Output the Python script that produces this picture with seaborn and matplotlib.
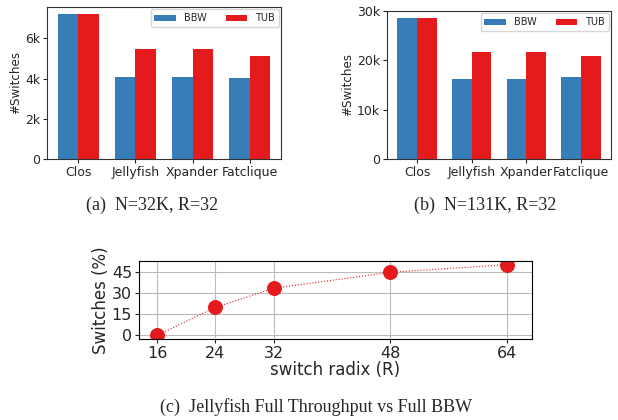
import matplotlib
matplotlib.use('Agg')
import matplotlib.pyplot as plt
import pandas as pd
import seaborn as sns

# ── Datos ─────────────────────────────────────────────────────────────────────
topologies = ['Clos', 'Jellyfish', 'Xpander', 'Fatclique']
series = ['BBW', 'TUB']
bbw_32k = [7200, 4080, 4080, 4030]
tub_32k = [7200, 5480, 5480, 5130]
bbw_131k = [28500, 16250, 16250, 16650]
tub_131k = [28500, 21700, 21700, 20900]

radix = [16, 24, 32, 48, 64]
switches_pct = [0, 19.8, 33.3, 44.6, 50]

colors = ['#377eb8', '#e41a1c']

sns.set_style('ticks')
plt.rcParams['font.family'] = ['DejaVu Sans']


def long_df(bbw, tub):
    return pd.DataFrame({
        'topo': topologies * 2,
        'kind': [series[0]] * 4 + [series[1]] * 4,
        'val': bbw + tub,
    })


def kfmt(v, _):
    return '0' if v == 0 else f'{int(v / 1000)}k'


fig = plt.figure(figsize=(6.18, 4.20), dpi=100)
ax_a = fig.add_axes([47 / 618, 1 - 159 / 420, 234 / 618, 152 / 420])
ax_b = fig.add_axes([387 / 618, 1 - 159 / 420, 224 / 618, 148 / 420])
ax_c = fig.add_axes([139 / 618, 1 - 339 / 420, 393 / 618, 78 / 420])

for ax, bbw, tub, ticks in [(ax_a, bbw_32k, tub_32k, [0, 2000, 4000, 6000]),
                            (ax_b, bbw_131k, tub_131k, [0, 10000, 20000, 30000])]:
    sns.barplot(data=long_df(bbw, tub), x='topo', y='val', hue='kind',
                palette=colors, width=0.72, gap=0, saturation=1,
                linewidth=0, ax=ax)
    ax.set_xlim(-0.55, 3.55)
    ax.set_ylim(0, max(bbw + tub) * 1.05)
    ax.set_yticks(ticks)
    ax.yaxis.set_major_formatter(matplotlib.ticker.FuncFormatter(kfmt))
    ax.set_xlabel('')
    ax.set_ylabel('#Switches', fontsize=8.6, labelpad=2)
    ax.tick_params(labelsize=9, length=3, pad=2)
    for s in ax.spines.values():
        s.set_color('#333333')
    ax.legend(loc='upper right', ncol=2, fontsize=7, handlelength=2.2,
              handletextpad=0.8, columnspacing=2.0, borderaxespad=0.25,
              frameon=True, title=None)

# ── Panel (c) ─────────────────────────────────────────────────────────────────
sns.lineplot(x=radix, y=switches_pct, color='#e41a1c', lw=0.8, ls=':',
             marker='o', markersize=10, markeredgecolor='#e41a1c', ax=ax_c)
ax_c.set_xticks(radix)
ax_c.set_yticks([0, 15, 30, 45])
ax_c.set_xlim(13.5, 67.5)
ax_c.set_ylim(-2.6, 52.6)
ax_c.grid(True, color='#bbbbbb', lw=0.8)
ax_c.tick_params(labelsize=11.5, length=3, pad=2)
ax_c.set_xlabel('switch radix (R)', fontsize=12, labelpad=0)
ax_c.set_ylabel('Switches (%)', fontsize=12, labelpad=1)
for s in ax_c.spines.values():
    s.set_color('black')

cap = dict(family='Liberation Serif', fontsize=13, ha='center', va='center')
fig.text(152 / 618, 1 - 205 / 420, '(a)  N=32K, R=32', **cap)
fig.text(485 / 618, 1 - 205 / 420, '(b)  N=131K, R=32', **cap)
fig.text(316 / 618, 1 - 407 / 420, '(c)  Jellyfish Full Throughput vs Full BBW', **cap)

fig.savefig('out.png', dpi=100)
